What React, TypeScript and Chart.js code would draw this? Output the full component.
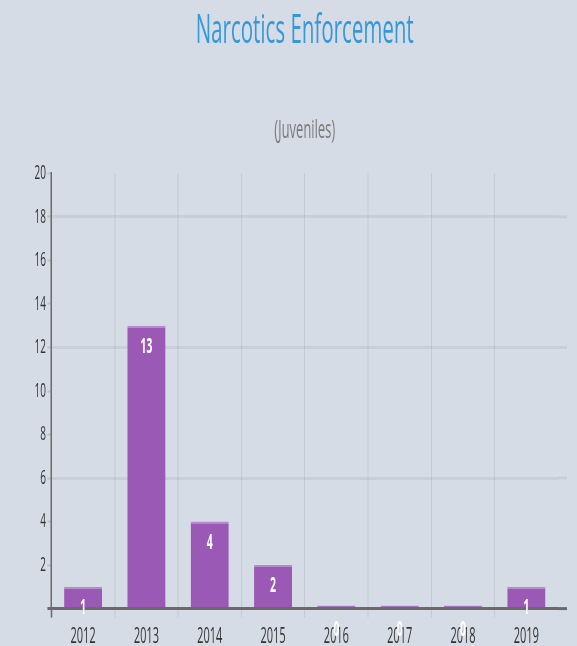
import React, { useEffect, useRef } from "react";
import { Chart, registerables } from "chart.js";

Chart.register(...registerables);

const categories = ["2012", "2013", "2014", "2015", "2016", "2017", "2018", "2019"];
const juveniles = [1, 13, 4, 2, 0, 0, 0, 1];
const yMax = 20;
const yStep = 2;
const strongGridValues = [6, 12, 18];

const titleText = "Narcotics Enforcement";
const subtitleText = "(Juveniles)";

const BG = "#d6dce6";
const W = 1154;
const H = 646;

const valueLabels = {
  id: "valueLabels",
  afterDatasetsDraw(chart: any) {
    const { ctx } = chart;
    const meta = chart.getDatasetMeta(0);
    ctx.save();
    ctx.fillStyle = "#ffffff";
    ctx.font = "bold 21px 'Open Sans'";
    ctx.textAlign = "center";
    ctx.textBaseline = "middle";
    meta.data.forEach((el: any, i: number) => {
      const v = chart.data.datasets[0].data[i];
      const top = chart.scales.y.getPixelForValue(v);
      ctx.fillText(String(v), el.x, top + 21);
    });
    ctx.restore();
  },
};

const gridExtension = {
  id: "gridExtension",
  afterDraw(chart: any) {
    const { ctx, chartArea } = chart;
    const y = chart.scales.y;
    ctx.save();
    strongGridValues.forEach((v) => {
      const py = y.getPixelForValue(v);
      ctx.strokeStyle = "rgba(0,0,0,0.06)";
      ctx.lineWidth = 3;
      ctx.beginPath();
      ctx.moveTo(chartArea.right, py);
      ctx.lineTo(chartArea.right + 18, py);
      ctx.stroke();
    });
    const p0 = y.getPixelForValue(0);
    ctx.strokeStyle = "#6a6a6a";
    ctx.lineWidth = 3;
    ctx.beginPath();
    ctx.moveTo(chartArea.right, p0);
    ctx.lineTo(chartArea.right + 18, p0);
    ctx.stroke();
    ctx.restore();
  },
};

export default function App() {
  const ref = useRef<HTMLCanvasElement>(null);

  useEffect(() => {
    document.body.style.margin = "0";
    document.body.style.background = BG;
    if (!ref.current) return;
    const inner = (c: any) => typeof c.index === "number" && c.index > 0;
    const chart = new Chart(ref.current, {
      type: "bar",
      data: {
        labels: categories,
        datasets: [
          {
            data: juveniles,
            backgroundColor: "#9b59b6",
            borderColor: "#b58ccb",
            borderWidth: { top: 2, left: 0, right: 0, bottom: 0 },
            borderSkipped: "start",
            barPercentage: 0.6,
            categoryPercentage: 1,
            minBarLength: 3,
          },
        ],
      },
      options: {
        responsive: false,
        animation: false,
        devicePixelRatio: 1,
        layout: { padding: { left: 66, right: 38, top: 0, bottom: -10 } },
        plugins: {
          legend: { display: false },
          tooltip: { enabled: false },
          title: {
            display: true,
            text: titleText,
            color: "#3498db",
            fullSize: false,
            font: { family: "'Open Sans'", size: 41, weight: "normal" },
            padding: { top: 7, bottom: 20 },
          },
          subtitle: {
            display: true,
            text: subtitleText,
            color: "#7a7a7a",
            fullSize: false,
            font: { family: "'Open Sans'", size: 26, weight: "normal" },
            padding: { top: 39, bottom: 27 },
          },
        },
        scales: {
          x: {
            grid: {
              offset: true,
              color: (c: any) => (inner(c) ? "rgba(0,0,0,0.08)" : "transparent"),
              lineWidth: 2,
              tickLength: 9,
              tickColor: (c: any) =>
                c.index === 0 ? "#6a6a6a" : inner(c) ? "rgba(0,0,0,0.08)" : "transparent",
              tickWidth: (c: any) => (c.index === 0 ? 3 : 2),
            },
            border: { display: true, color: "#6a6a6a", width: 3 },
            ticks: {
              color: "#333333",
              padding: 6,
              font: { family: "'Open Sans'", size: 22 },
            },
          },
          y: {
            min: 0,
            max: yMax,
            ticks: {
              stepSize: yStep,
              color: "#333333",
              padding: 3,
              font: { family: "'Open Sans'", size: 20 },
              callback: (v: any) => (Number(v) === 0 ? "" : String(v)),
            },
            grid: {
              color: (c: any) =>
                c.tick && strongGridValues.includes(c.tick.value) ? "rgba(0,0,0,0.06)" : "transparent",
              lineWidth: 3,
              tickLength: 8,
              tickColor: (c: any) =>
                c.tick && c.tick.value === 0 ? "#6a6a6a" : "rgba(0,0,0,0.12)",
              tickWidth: (c: any) => (c.tick && c.tick.value === 0 ? 3 : 2),
            },
            border: { display: true, color: "#6a6a6a", width: 3 },
          },
        },
      },
      plugins: [valueLabels, gridExtension],
    });
    return () => chart.destroy();
  }, []);

  return (
    <div
      style={{
        position: "fixed",
        left: 0,
        top: 0,
        width: 577,
        height: H,
        overflow: "hidden",
        background: BG,
      }}
    >
      <div
        style={{
          width: W,
          height: H,
          transform: "scaleX(0.5)",
          transformOrigin: "0 0",
        }}
      >
        <canvas ref={ref} width={W} height={H} style={{ width: W, height: H, display: "block" }} />
      </div>
    </div>
  );
}
